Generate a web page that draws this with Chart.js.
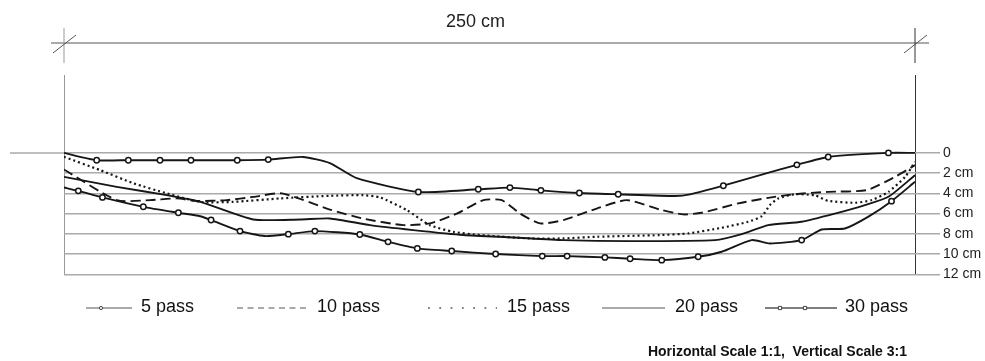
<!DOCTYPE html>
<html>
<head>
<meta charset="utf-8">
<script src="https://cdn.jsdelivr.net/npm/chart.js@4/dist/chart.umd.min.js"></script>
<style>
  html, body { margin: 0; padding: 0; background: #fff; }
</style>
</head>
<body>
<canvas id="chart" width="985" height="361"></canvas>
<script>
// Rut depth profile across a 250 cm wide track (x in cm, depth in cm)
const depthTicks = [0, 2, 4, 6, 8, 10, 12];

const pass5X     = [0, 9.6, 18.9, 28.2, 37.3, 50.9, 60.0, 70.2, 78.1, 86.0, 104.1, 121.7, 131.0, 140.1, 151.4, 162.8, 179.5, 183.9, 193.7, 205.0, 215.3, 224.5, 242.2, 250];
const pass5Depth = [0, 0.72, 0.72, 0.72, 0.72, 0.72, 0.66, 0.4, 1.0, 2.5, 3.86, 3.6, 3.43, 3.7, 3.96, 4.09, 4.26, 4.1, 3.24, 2.15, 1.18, 0.4, 0.0, 0];
const pass5Marked = [1, 2, 3, 4, 5, 6, 10, 11, 12, 13, 14, 15, 18, 20, 21, 22];

const pass10X     = [0, 15.5, 25.3, 33.1, 39.0, 47.8, 55.6, 64.0, 78.1, 87.9, 99.7, 107.5, 115.4, 123.2, 128.6, 134.0, 139.8, 146.7, 156.5, 165.3, 175.1, 181.9, 187.3, 198.1, 206.9, 214.7, 224.5, 235.8, 244.1, 250];
const pass10Depth = [1.64, 4.67, 4.67, 4.5, 4.75, 4.67, 4.35, 4.0, 5.6, 6.5, 7.14, 6.97, 6.0, 4.67, 4.67, 6.0, 6.97, 6.64, 5.5, 4.67, 5.6, 6.08, 5.92, 4.99, 4.44, 4.08, 3.85, 3.68, 2.37, 1.21];

const pass15X     = [0, 10.6, 20.4, 30.2, 40.0, 49.7, 63.5, 78.1, 87.9, 92.8, 100.7, 107.5, 114.4, 122.2, 136.9, 146.7, 156.5, 175.1, 183.4, 193.2, 201.0, 205.0, 207.4, 209.8, 214.7, 220.6, 224.5, 232.4, 237.3, 242.2, 247.1, 250];
const pass15Depth = [0.39, 1.7, 3.0, 4.0, 4.84, 4.84, 4.5, 4.24, 4.18, 4.4, 5.65, 7.14, 7.8, 8.12, 8.45, 8.45, 8.29, 8.12, 7.96, 7.4, 6.81, 6.25, 5.16, 4.5, 4.08, 4.2, 4.74, 4.93, 4.66, 3.85, 2.37, 0.89];

const pass20X     = [0, 15.5, 30.2, 40.0, 55.6, 69.4, 78.1, 89.9, 102.6, 117.3, 132.0, 146.7, 166.3, 191.3, 199.1, 206.9, 216.7, 226.5, 235.3, 242.2, 250];
const pass20Depth = [2.37, 3.36, 4.18, 4.84, 6.58, 6.58, 6.48, 7.14, 7.63, 8.12, 8.36, 8.62, 8.72, 8.62, 8.03, 7.14, 6.81, 6.0, 5.16, 4.34, 2.2];

const pass30X     = [0, 4.2, 11.3, 23.3, 33.6, 40.0, 43.2, 51.7, 59.0, 65.9, 73.7, 86.9, 95.2, 103.8, 113.9, 126.8, 140.5, 147.8, 158.9, 166.3, 175.6, 186.3, 193.2, 202.0, 207.4, 216.7, 222.6, 229.4, 236.2, 243.1, 250];
const pass30Depth = [3.42, 3.75, 4.4, 5.33, 5.92, 6.26, 6.64, 7.73, 8.22, 8.03, 7.73, 8.06, 8.79, 9.44, 9.7, 10.0, 10.2, 10.2, 10.33, 10.46, 10.6, 10.27, 9.77, 8.62, 8.95, 8.62, 7.57, 7.47, 6.32, 4.77, 2.86];
const pass30Marked = [1, 2, 3, 4, 6, 7, 9, 10, 11, 12, 13, 14, 15, 16, 17, 18, 19, 20, 21, 25, 29];

const LINE = '#161616';
const FONT = '"Liberation Sans", Arial, sans-serif';

function toPoints(xs, ds) {
    return xs.map((x, i) => ({ x: x, y: ds[i] }));
}

function makeSeries(label, xs, ds, dash, marked, width) {
    return {
        label: label,
        data: toPoints(xs, ds),
        borderColor: LINE,
        borderWidth: width || 1.9,
        borderDash: dash,
        tension: 0.2,
        fill: false,
        pointStyle: 'circle',
        pointBackgroundColor: '#fff',
        pointBorderColor: LINE,
        pointBorderWidth: 1.5,
        pointRadius: ctx => (marked && marked.includes(ctx.dataIndex)) ? 2.7 : 0,
        pointHoverRadius: 0,
    };
}

/**
 * Dimension line, zero line extension, legend and scale note
 */
const decorations = {
    id: 'decorations',
    beforeDatasetsDraw(chart) {
        const { ctx, scales } = chart;
        const x0 = scales.x.getPixelForValue(0);
        const y0 = scales.y.getPixelForValue(0);
        ctx.save();
        ctx.strokeStyle = '#aaa';
        ctx.lineWidth = 1.5;
        ctx.beginPath();
        ctx.moveTo(10, y0);
        ctx.lineTo(x0, y0);
        ctx.stroke();
        ctx.restore();
    },
    afterDraw(chart) {
        const { ctx, scales } = chart;
        const x0 = scales.x.getPixelForValue(0);
        const x1 = scales.x.getPixelForValue(250);
        ctx.save();

        // dimension line
        ctx.strokeStyle = '#aaa';
        ctx.lineWidth = 2;
        ctx.beginPath();
        ctx.moveTo(x0 - 13, 43);
        ctx.lineTo(x1 + 14, 43);
        ctx.stroke();

        [[x0, '#999'], [x1, '#333']].forEach(([x, col]) => {
            ctx.strokeStyle = col;
            ctx.lineWidth = 1;
            ctx.beginPath();
            ctx.moveTo(x, 28);
            ctx.lineTo(x, 63);
            ctx.stroke();
            ctx.strokeStyle = '#555';
            ctx.beginPath();
            ctx.moveTo(x - 11, 53);
            ctx.lineTo(x + 12, 35);
            ctx.stroke();
        });

        ctx.fillStyle = '#222';
        ctx.font = '18px ' + FONT;
        ctx.textAlign = 'center';
        ctx.textBaseline = 'middle';
        ctx.fillText('250 cm', (x0 + x1) / 2 - 14, 22);

        // legend
        const items = [
            { x0: 86, x1: 132, tx: 141, dash: [], marks: [101], shape: 'circle' },
            { x0: 237, x1: 308, tx: 317, dash: [6, 4.5] },
            { x0: 428, x1: 497, tx: 507, dash: [1.8, 9.5] },
            { x0: 602, x1: 665, tx: 675, dash: [] },
            { x0: 765, x1: 837, tx: 845, dash: [], marks: [780, 805], shape: 'square' },
        ];
        const ly = 308;
        items.forEach((it, i) => {
            ctx.strokeStyle = '#555';
            ctx.lineWidth = i === 4 ? 1.6 : (i === 2 ? 1.6 : 1);
            ctx.setLineDash(it.dash);
            ctx.beginPath();
            ctx.moveTo(it.x0, ly);
            ctx.lineTo(it.x1, ly);
            ctx.stroke();
            ctx.setLineDash([]);
            (it.marks || []).forEach(mx => {
                ctx.fillStyle = '#fff';
                ctx.strokeStyle = '#444';
                ctx.lineWidth = 1;
                ctx.beginPath();
                if (it.shape === 'circle') {
                    ctx.arc(mx, ly, 1.6, 0, Math.PI * 2);
                } else {
                    ctx.rect(mx - 1.6, ly - 1.6, 3.2, 3.2);
                }
                ctx.fill();
                ctx.stroke();
            });
            ctx.fillStyle = '#111';
            ctx.font = '18px ' + FONT;
            ctx.textAlign = 'left';
            ctx.textBaseline = 'middle';
            ctx.fillText(chart.data.datasets[i].label, it.tx, ly - 1);
        });

        // scale note
        ctx.fillStyle = '#111';
        ctx.font = 'bold 14px ' + FONT;
        ctx.textAlign = 'right';
        ctx.textBaseline = 'middle';
        ctx.fillText('Horizontal Scale 1:1,  Vertical Scale 3:1', 907, 352);

        ctx.restore();
    }
};

new Chart(document.getElementById('chart'), {
    type: 'line',
    data: {
        datasets: [
            makeSeries('5 pass', pass5X, pass5Depth, [], pass5Marked),
            makeSeries('10 pass', pass10X, pass10Depth, [10, 5]),
            makeSeries('15 pass', pass15X, pass15Depth, [2, 3], null, 2.2),
            makeSeries('20 pass', pass20X, pass20Depth, []),
            makeSeries('30 pass', pass30X, pass30Depth, [], pass30Marked),
        ],
    },
    options: {
        responsive: false,
        animation: false,
        layout: { padding: { top: 75, bottom: 86.7, left: 64, right: 0 } },
        plugins: {
            legend: { display: false },
            tooltip: { enabled: false },
        },
        scales: {
            x: {
                type: 'linear',
                min: 0,
                max: 250,
                afterBuildTicks: axis => { axis.ticks = [{ value: 0 }, { value: 250 }]; },
                afterFit: axis => { axis.height = 0; },
                grid: {
                    color: c => (c.tick && c.tick.value === 0) ? '#999' : '#333',
                    lineWidth: 1,
                    drawTicks: false,
                },
                border: { display: false },
                ticks: { display: false },
            },
            y: {
                type: 'linear',
                position: 'right',
                reverse: true,
                min: -7.7,
                max: 12,
                afterBuildTicks: axis => { axis.ticks = depthTicks.map(v => ({ value: v })); },
                afterFit: axis => { axis.width = 70; },
                grid: { color: '#aaa', lineWidth: 1.5, tickLength: 25 },
                border: { display: false },
                ticks: {
                    padding: 3,
                    color: '#222',
                    autoSkip: false,
                    font: { family: FONT, size: 14 },
                    callback: v => v === 0 ? '0' : v + ' cm',
                },
            },
        },
    },
    plugins: [decorations],
});
</script>
</body>
</html>
